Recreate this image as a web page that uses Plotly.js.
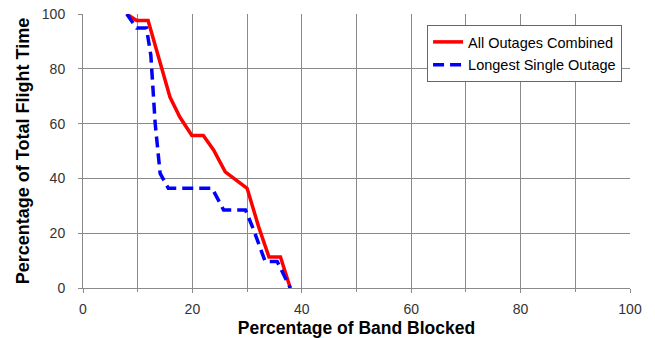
<!DOCTYPE html>
<html><head><meta charset="utf-8">
<script src="https://cdn.plot.ly/plotly-3.0.1.min.js"></script>
<style>body{margin:0;background:#fff}#c{width:655px;height:338px}</style>
</head><body><div id="c"></div>
<script>
const combinedX = [8, 9.8, 11.9, 14, 15.9, 17.7, 19.9, 22, 23.9, 26, 30, 32.1, 34, 36.1, 37.9];
const combinedY = [100, 97.6, 97.6, 83, 69.7, 62.4, 55.7, 55.7, 50.3, 42.4, 36.4, 22.4, 11.3, 11.3, 0];
const longestX = [8, 9.8, 11.6, 12.4, 13.2, 14.1, 15.6, 23.6, 25.7, 29.7, 31.2, 33.3, 35.5, 37.9];
const longestY = [100, 94.9, 94.9, 85, 60, 41.8, 36.4, 36.4, 28.5, 28.5, 21.2, 9.7, 9.7, 0];
const seriesNames = ["All Outages Combined", "Longest Single Outage"];

const font = "Liberation Sans, Arial, sans-serif";
const data = [
  {x: combinedX, y: combinedY, mode: "lines", name: seriesNames[0], legendgroup: "a",
   line: {color: "#ff0000", width: 3.5}},
  {x: longestX, y: longestY, mode: "lines", name: seriesNames[1], legendgroup: "b",
   line: {color: "#0000ff", width: 3.5, dash: "11px,6px"}}
];
const axisCommon = {
  showgrid: true, gridcolor: "#8a8a8a", gridwidth: 1,
  showline: true, linecolor: "#8a8a8a", linewidth: 1,
  ticks: "outside", ticklen: 4, tickcolor: "#8a8a8a",
  zeroline: false, mirror: false,
  tickfont: {family: font, size: 14, color: "#333"}
};
const layout = {
  width: 655, height: 338,
  margin: {l: 83, r: 25, t: 14, b: 50},
  paper_bgcolor: "#fff", plot_bgcolor: "#fff",
  showlegend: true,
  legend: {x: 0.629, y: 0.96, xanchor: "left", yanchor: "top",
    traceorder: "grouped", tracegroupgap: 1,
    bgcolor: "#fff", bordercolor: "#666", borderwidth: 1,
    font: {family: font, size: 14.5, color: "#000"}},
  xaxis: Object.assign({}, axisCommon, {range: [0, 100], dtick: 20, ticklabelstandoff: 4,
    minor: {dtick: 10, showgrid: true, gridcolor: "#8a8a8a", ticks: "outside", ticklen: 3, tickcolor: "#8a8a8a"},
    title: {text: "Percentage of Band Blocked", font: {family: font, size: 17.5, color: "#000", weight: "bold"}, standoff: 6}}),
  yaxis: Object.assign({}, axisCommon, {range: [0, 100], dtick: 20, ticklabelstandoff: 10,
    title: {text: "Percentage of Total Flight Time", font: {family: font, size: 18, color: "#000", weight: "bold"}, standoff: 7}})
};
Plotly.newPlot("c", data, layout, {displayModeBar: false, staticPlot: true});
</script></body></html>
